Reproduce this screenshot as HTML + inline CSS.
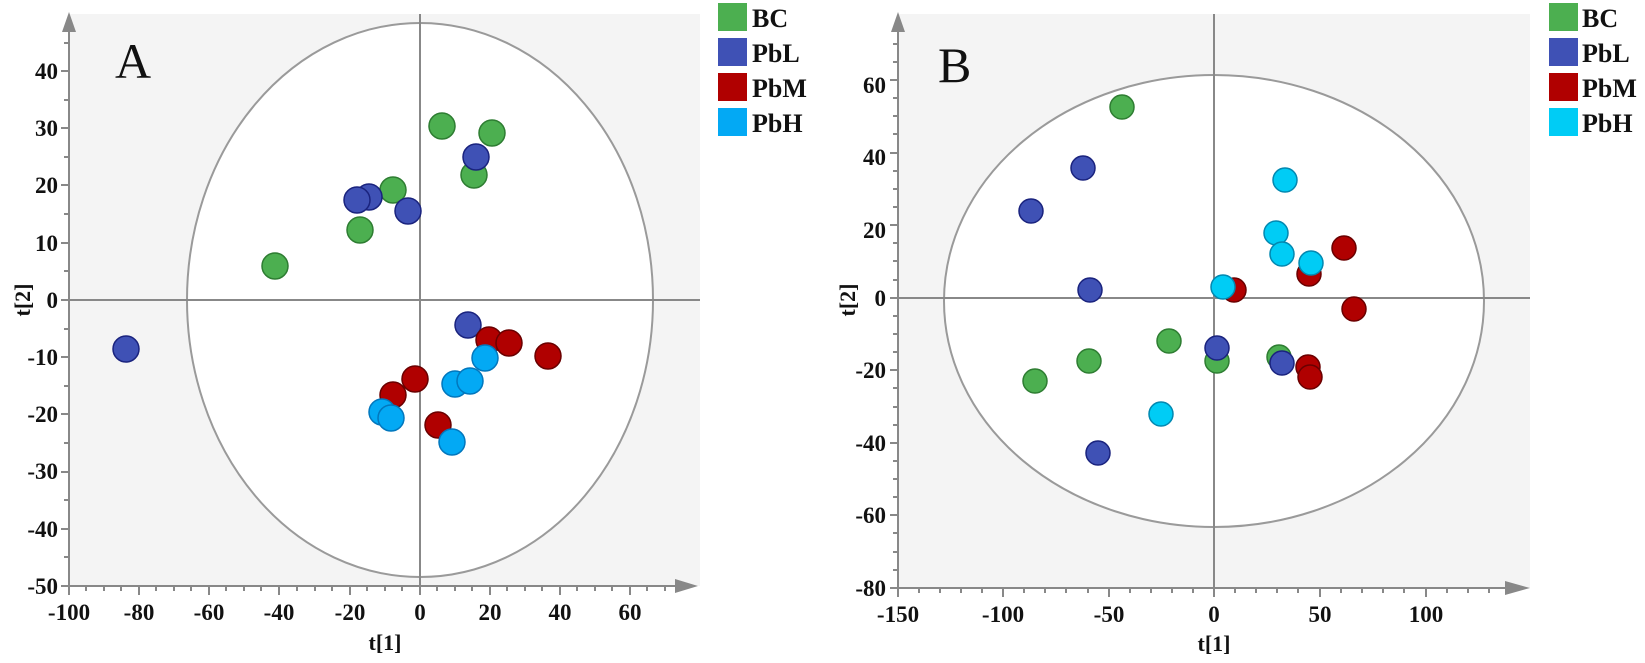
<!DOCTYPE html>
<html><head><meta charset="utf-8"><style>
html,body{margin:0;padding:0;background:#fff}
svg text{font-family:"Liberation Serif",serif;font-weight:bold;fill:#111}
</style></head><body>
<svg width="1645" height="658" viewBox="0 0 1645 658" xmlns="http://www.w3.org/2000/svg">
<defs><clipPath id="ca"><rect x="69" y="14" width="631" height="572"/></clipPath>
<clipPath id="cb"><rect x="898" y="14" width="632" height="574"/></clipPath></defs>
<!-- Panel A -->
<rect x="69" y="14" width="631" height="572" fill="#f4f4f4"/>
<ellipse cx="420" cy="300" rx="233" ry="277" fill="#fff" stroke="#9a9a9a" stroke-width="2" clip-path="url(#ca)"/>
<line x1="69" y1="300" x2="700" y2="300" stroke="#888" stroke-width="2"/>
<line x1="420" y1="14" x2="420" y2="586" stroke="#888" stroke-width="2"/>
<line x1="69" y1="30" x2="69" y2="586" stroke="#888" stroke-width="2"/>
<polygon points="62,32 76,32 69,12" fill="#888"/>
<line x1="69" y1="586" x2="680" y2="586" stroke="#888" stroke-width="2"/>
<polygon points="675,579 675,593 698,586" fill="#888"/>
<text x="115" y="78" font-size="50" style="font-weight:normal">A</text>
<g font-size="23" text-anchor="end">
<text x="58" y="79">40</text><text x="58" y="136">30</text><text x="58" y="193">20</text><text x="58" y="251">10</text><text x="58" y="308">0</text>
<text x="58" y="365">-10</text><text x="58" y="422">-20</text><text x="58" y="479">-30</text><text x="58" y="537">-40</text><text x="58" y="594">-50</text>
</g>
<g font-size="23" text-anchor="middle">
<text x="69" y="620">-100</text><text x="139" y="620">-80</text><text x="209" y="620">-60</text><text x="279" y="620">-40</text><text x="350" y="620">-20</text>
<text x="420" y="620">0</text><text x="490" y="620">20</text><text x="560" y="620">40</text><text x="630" y="620">60</text>
</g>
<text x="385" y="650" font-size="22" text-anchor="middle">t[1]</text>
<text x="0" y="0" font-size="22" text-anchor="middle" transform="translate(30,300) rotate(-90)">t[2]</text>
<g stroke-width="1.5">
<g fill="#4caf50" stroke="#2e7d32">
<circle cx="275" cy="266" r="13"/><circle cx="360" cy="230" r="13"/><circle cx="393" cy="190" r="13"/><circle cx="442" cy="126" r="13"/><circle cx="492" cy="133" r="13"/><circle cx="474" cy="175" r="13"/></g>
<g fill="#3f51b5" stroke="#1a237e">
<circle cx="126" cy="349" r="13"/><circle cx="369" cy="197" r="13"/><circle cx="357" cy="200" r="13"/><circle cx="408" cy="211" r="13"/><circle cx="468" cy="325" r="13"/><circle cx="476" cy="157" r="13"/></g>
<g fill="#b00000" stroke="#6a0000">
<circle cx="415" cy="379" r="13"/><circle cx="393" cy="395" r="13"/><circle cx="438" cy="425" r="13"/><circle cx="489" cy="340" r="13"/><circle cx="509" cy="343" r="13"/><circle cx="548" cy="356" r="13"/></g>
<g fill="#03a9f4" stroke="#0277bd">
<circle cx="382" cy="412" r="13"/><circle cx="391" cy="418" r="13"/><circle cx="455" cy="384" r="13"/><circle cx="470" cy="381" r="13"/><circle cx="485" cy="358" r="13"/><circle cx="452" cy="442" r="13"/></g>
</g>
<g font-size="26">
<rect x="718" y="3" width="29" height="28" fill="#4caf50"/><text x="752" y="27">BC</text>
<rect x="718" y="38" width="29" height="28" fill="#3f51b5"/><text x="752" y="62">PbL</text>
<rect x="718" y="73" width="29" height="28" fill="#b00000"/><text x="752" y="97">PbM</text>
<rect x="718" y="108" width="29" height="28" fill="#03a9f4"/><text x="752" y="132">PbH</text>
</g>
<!-- Panel B -->
<rect x="898" y="14" width="632" height="574" fill="#f4f4f4"/>
<ellipse cx="1214" cy="301" rx="270" ry="226" fill="#fff" stroke="#9a9a9a" stroke-width="2" clip-path="url(#cb)"/>
<line x1="898" y1="298" x2="1530" y2="298" stroke="#888" stroke-width="2"/>
<line x1="1214" y1="14" x2="1214" y2="588" stroke="#888" stroke-width="2"/>
<line x1="898" y1="30" x2="898" y2="588" stroke="#888" stroke-width="2"/>
<polygon points="891,32 905,32 898,12" fill="#888"/>
<line x1="898" y1="588" x2="1510" y2="588" stroke="#888" stroke-width="2"/>
<polygon points="1505,581 1505,595 1530,588" fill="#888"/>
<text x="938" y="82" font-size="50" style="font-weight:normal">B</text>
<g font-size="23" text-anchor="end">
<text x="886" y="93">60</text><text x="886" y="165">40</text><text x="886" y="238">20</text><text x="886" y="306">0</text>
<text x="886" y="378">-20</text><text x="886" y="451">-40</text><text x="886" y="523">-60</text><text x="886" y="596">-80</text>
</g>
<g font-size="23" text-anchor="middle">
<text x="898" y="622">-150</text><text x="1003" y="622">-100</text><text x="1109" y="622">-50</text><text x="1214" y="622">0</text><text x="1320" y="622">50</text><text x="1426" y="622">100</text>
</g>
<text x="1214" y="651" font-size="22" text-anchor="middle">t[1]</text>
<text x="0" y="0" font-size="22" text-anchor="middle" transform="translate(855,300) rotate(-90)">t[2]</text>
<g stroke-width="1.5">
<g fill="#4caf50" stroke="#2e7d32">
<circle cx="1035" cy="381" r="12"/><circle cx="1089" cy="361" r="12"/><circle cx="1169" cy="341" r="12"/><circle cx="1217" cy="361" r="12"/><circle cx="1279" cy="357" r="12"/><circle cx="1122" cy="107" r="12"/></g>
<g fill="#3f51b5" stroke="#1a237e">
<circle cx="1031" cy="211" r="12"/><circle cx="1083" cy="168" r="12"/><circle cx="1090" cy="290" r="12"/><circle cx="1098" cy="453" r="12"/><circle cx="1217" cy="348" r="12"/><circle cx="1282" cy="363" r="12"/></g>
<g fill="#b00000" stroke="#6a0000">
<circle cx="1234" cy="290" r="12"/><circle cx="1309" cy="274" r="12"/><circle cx="1344" cy="248" r="12"/><circle cx="1354" cy="309" r="12"/><circle cx="1308" cy="367" r="12"/><circle cx="1310" cy="377" r="12"/></g>
<g fill="#00ccf5" stroke="#0288b0">
<circle cx="1285" cy="180" r="12"/><circle cx="1276" cy="233" r="12"/><circle cx="1282" cy="254" r="12"/><circle cx="1311" cy="263" r="12"/><circle cx="1223" cy="287" r="12"/><circle cx="1161" cy="414" r="12"/></g>
</g>
<g font-size="26">
<rect x="1549" y="3" width="29" height="28" fill="#4caf50"/><text x="1582" y="27">BC</text>
<rect x="1549" y="38" width="29" height="28" fill="#3f51b5"/><text x="1582" y="62">PbL</text>
<rect x="1549" y="73" width="29" height="28" fill="#b00000"/><text x="1582" y="97">PbM</text>
<rect x="1549" y="108" width="29" height="28" fill="#00ccf5"/><text x="1582" y="132">PbH</text>
</g>
<g stroke="#888" stroke-width="2">
<path d="M61 71H69M64 100H69M61 128H69M64 157H69M61 185H69M64 214H69M61 243H69M64 271H69M61 300H69M64 329H69M61 357H69M64 386H69M61 414H69M64 443H69M61 472H69M64 500H69M61 529H69M64 557H69M61 586H69M64 43H69"/>
<path d="M69 586V595M86 586V591M104 586V591M121 586V591M139 586V595M156 586V591M174 586V591M191 586V591M209 586V595M226 586V591M244 586V591M261 586V591M279 586V595M297 586V591M315 586V591M332 586V591M350 586V595M367 586V591M385 586V591M402 586V591M420 586V595M437 586V591M455 586V591M472 586V591M490 586V595M507 586V591M525 586V591M542 586V591M560 586V595M577 586V591M595 586V591M612 586V591M630 586V595M647 586V591M665 586V591"/>
<path d="M890 80H898M893 98H898M893 116H898M893 134H898M890 153H898M893 171H898M893 189H898M893 207H898M890 225H898M893 243H898M893 261H898M893 280H898M890 298H898M893 316H898M893 334H898M893 352H898M890 370H898M893 388H898M893 407H898M893 425H898M890 443H898M893 461H898M893 479H898M893 497H898M890 515H898M893 533H898M893 552H898M893 570H898M890 588H898M893 62H898M893 44H898"/>
<path d="M898 588V597M919 588V593M940 588V593M961 588V593M982 588V593M1003 588V597M1024 588V593M1045 588V593M1066 588V593M1088 588V593M1109 588V597M1130 588V593M1151 588V593M1172 588V593M1193 588V593M1214 588V597M1235 588V593M1256 588V593M1277 588V593M1298 588V593M1320 588V597M1341 588V593M1362 588V593M1383 588V593M1404 588V593M1426 588V597M1447 588V593M1468 588V593M1489 588V593"/>
</g>
</svg>
</body></html>
